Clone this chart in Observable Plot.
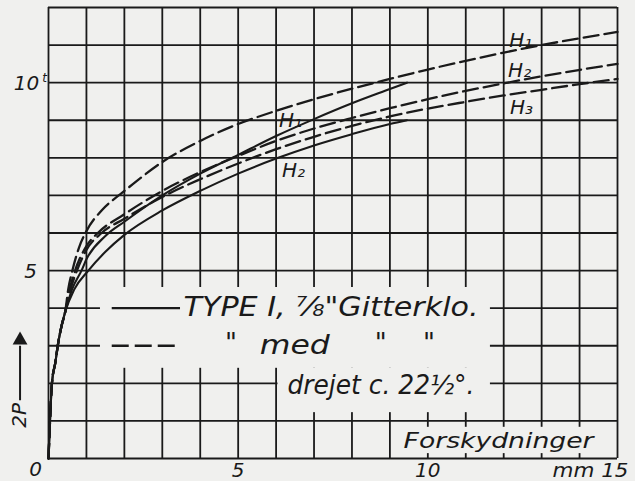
<!DOCTYPE html>
<html>
<head>
<meta charset="utf-8">
<script src="https://cdn.jsdelivr.net/npm/d3@7"></script>
<script src="https://cdn.jsdelivr.net/npm/@observablehq/plot@0.6"></script>
<style>
  html, body { margin: 0; padding: 0; background: #f0f0ee; }
  #chart svg { display: block; }
</style>
</head>
<body>
<div id="chart"></div>
<script>
// ---- data (x: Forskydninger mm, y: 2P tonnes) ----
const xGrid = d3.range(0, 16);
const yGrid = d3.range(0, 13);
const xTickLabels = ["5", "10"];
const xTickValues = [5, 10];

// common steep start shared by all curves
const base = [[0,0],[0.04,1],[0.09,2],[0.18,2.55],[0.26,3.1],[0.35,3.55],[0.44,3.9]];

// Type I, 7/8" Gitterklo (solid)
const solidH1 = [[0.62,4.5],[0.87,5],[1,5.3],[1.5,5.92],[2,6.3],[3,7.0],[4,7.58],[5,8.08],[6,8.58],[7,9.03],[8,9.45],[9,9.83],[9.45,10.0]];
const solidH2 = [[0.68,4.5],[1.05,5],[1.5,5.5],[2,5.95],[3,6.6],[4,7.12],[5,7.58],[6,7.98],[7,8.33],[8,8.63],[9,8.9],[9.45,9.0]];
// med do., drejet c. 22½° (dashed)
const dashedH1 = [[0.52,4.5],[0.63,5],[0.8,5.6],[1,6.05],[1.4,6.6],[1.85,7.0],[2,7.12],[3,7.89],[4,8.45],[5,8.9],[6,9.25],[7,9.56],[8,9.84],[9,10.1],[10,10.35],[11,10.58],[12,10.8],[13,11.0],[14,11.18],[15,11.35]];
const dashedH2 = [[0.56,4.5],[0.7,5],[1,5.65],[1.3,6.0],[2,6.5],[3,7.12],[4,7.62],[5,8.05],[6,8.45],[7,8.78],[8,9.06],[9,9.32],[10,9.56],[11,9.78],[12,9.98],[13,10.17],[14,10.34],[15,10.5]];
const dashedH3 = [[0.58,4.5],[0.75,5],[1,5.55],[1.4,6.0],[2,6.38],[3,6.96],[4,7.43],[5,7.85],[6,8.23],[7,8.56],[8,8.85],[9,9.1],[10,9.31],[11,9.49],[12,9.66],[13,9.81],[14,9.96],[15,10.1]];

const curveLabelText = ["H₁", "H₂", "H₁", "H₂", "H₃"];

// ---- annotation placement and styling (not data) ----
const curveLabelPos = [[6.38, 9.0], [6.46, 7.66], [12.45, 11.12], [12.42, 10.32], [12.47, 9.34]];
const paper = "#f0f0ee";
const ink = "#1a1a1a";
const font = "DejaVu Sans";
const maskBoxes = [
  {x1: 1.37, x2: 11.65, y1: 2.4, y2: 4.55},
  {x1: 6.05, x2: 11.65, y1: 1.22, y2: 2.4},
  {x1: 9.25, x2: 14.7, y1: 0.13, y2: 0.83}
];
const legendTexts = [
  {x: 3.56, y: 4.0, t: "TYPE I, ⅞\"Gitterklo."},
  {x: 4.65, y: 3.05, t: "\""},
  {x: 5.57, y: 3.0, t: "med"},
  {x: 8.6,  y: 3.05, t: "\""},
  {x: 9.87, y: 3.05, t: "\""},
  {x: 6.3,  y: 1.93, t: "drejet c. 22½°."}
];
const fitWidths = {
  "TYPE I, ⅞\"Gitterklo.": 295,
  "med": 70,
  "drejet c. 22½°.": 187,
  "Forskydninger": 190,
  "mm 15": 76
};

const full = arr => base.concat(arr);
const txt = {fontStyle: "italic", fill: ink, fontFamily: font};
const curveLabels = curveLabelText.map((t, i) => ({t, x: curveLabelPos[i][0], y: curveLabelPos[i][1]}));
const xTicks = xTickValues.map((v, i) => ({v, t: xTickLabels[i]}));

const chart = Plot.plot({
  width: 635,
  height: 481,
  marginLeft: 48,
  marginRight: 18,
  marginTop: 7,
  marginBottom: 23,
  x: {domain: [0, 15], axis: null},
  y: {domain: [0, 12], axis: null},
  style: {background: paper, color: ink, fontFamily: font},
  marks: [
    Plot.ruleX(xGrid, {stroke: ink, strokeWidth: 1.8}),
    Plot.ruleY(yGrid, {stroke: ink, strokeWidth: 1.8}),
    Plot.rect(maskBoxes, {x1: "x1", x2: "x2", y1: "y1", y2: "y2", fill: paper}),
    // curves
    Plot.line(full(solidH1), {stroke: ink, strokeWidth: 2.1, curve: "monotone-x"}),
    Plot.line(full(solidH2), {stroke: ink, strokeWidth: 2.1, curve: "monotone-x"}),
    Plot.line(full(dashedH1), {stroke: ink, strokeWidth: 2.3, strokeDasharray: "15,6", curve: "monotone-x"}),
    Plot.line(full(dashedH2), {stroke: ink, strokeWidth: 2.3, strokeDasharray: "15,6", curve: "monotone-x"}),
    Plot.line(full(dashedH3), {stroke: ink, strokeWidth: 2.3, strokeDasharray: "15,6", curve: "monotone-x"}),
    Plot.text(curveLabels, {x: "x", y: "y", text: "t", fontSize: 20, ...txt}),
    // legend samples
    Plot.ruleY([4], {x1: 1.68, x2: 3.48, stroke: ink, strokeWidth: 2.3}),
    Plot.ruleY([3], {x1: 1.68, x2: 3.42, stroke: ink, strokeWidth: 2.3, strokeDasharray: "17,6"}),
    Plot.text(legendTexts, {x: "x", y: "y", text: "t", textAnchor: "start", fontSize: 26, ...txt}),
    // axis labels
    Plot.text(["Forskydninger"], {x: 9.36, y: 0.47, textAnchor: "start", fontSize: 21, ...txt}),
    Plot.text(xTicks, {x: "v", y: 0, text: "t", dy: 12, fontSize: 20, ...txt}),
    Plot.text(["mm 15"], {x: 15, y: 0, dy: 12, dx: 11, textAnchor: "end", fontSize: 20, ...txt}),
    Plot.text(["0"], {x: 0, y: 0, dy: 11, dx: -13, fontSize: 20, ...txt}),
    Plot.text(["5"], {x: 0, y: 5, dx: -18, dy: 1, fontSize: 20, ...txt}),
    Plot.text(["10"], {x: 0, y: 10, dx: -22, dy: 1, fontSize: 20, ...txt}),
    Plot.text(["t"], {x: 0, y: 10, dx: -4, dy: -5, fontSize: 12, ...txt}),
    Plot.text(["2P"], {x: 0, y: 1.15, dx: -29, rotate: -90, fontSize: 20, ...txt}),
    Plot.link([{}], {x1: -0.75, y1: 1.55, x2: -0.75, y2: 3.0, stroke: ink, strokeWidth: 2}),
    Plot.dot([{}], {x: -0.75, y: 3.15, symbol: "triangle", r: 5.5, fill: ink, stroke: "none"})
  ]
});

// stretch the hand-lettered texts to the widths seen in the drawing
d3.select(chart).selectAll("text").each(function () {
  const w = fitWidths[this.textContent];
  if (w) {
    this.setAttribute("textLength", w);
    this.setAttribute("lengthAdjust", "spacingAndGlyphs");
  }
});

document.getElementById("chart").appendChild(chart);
</script>
</body>
</html>
